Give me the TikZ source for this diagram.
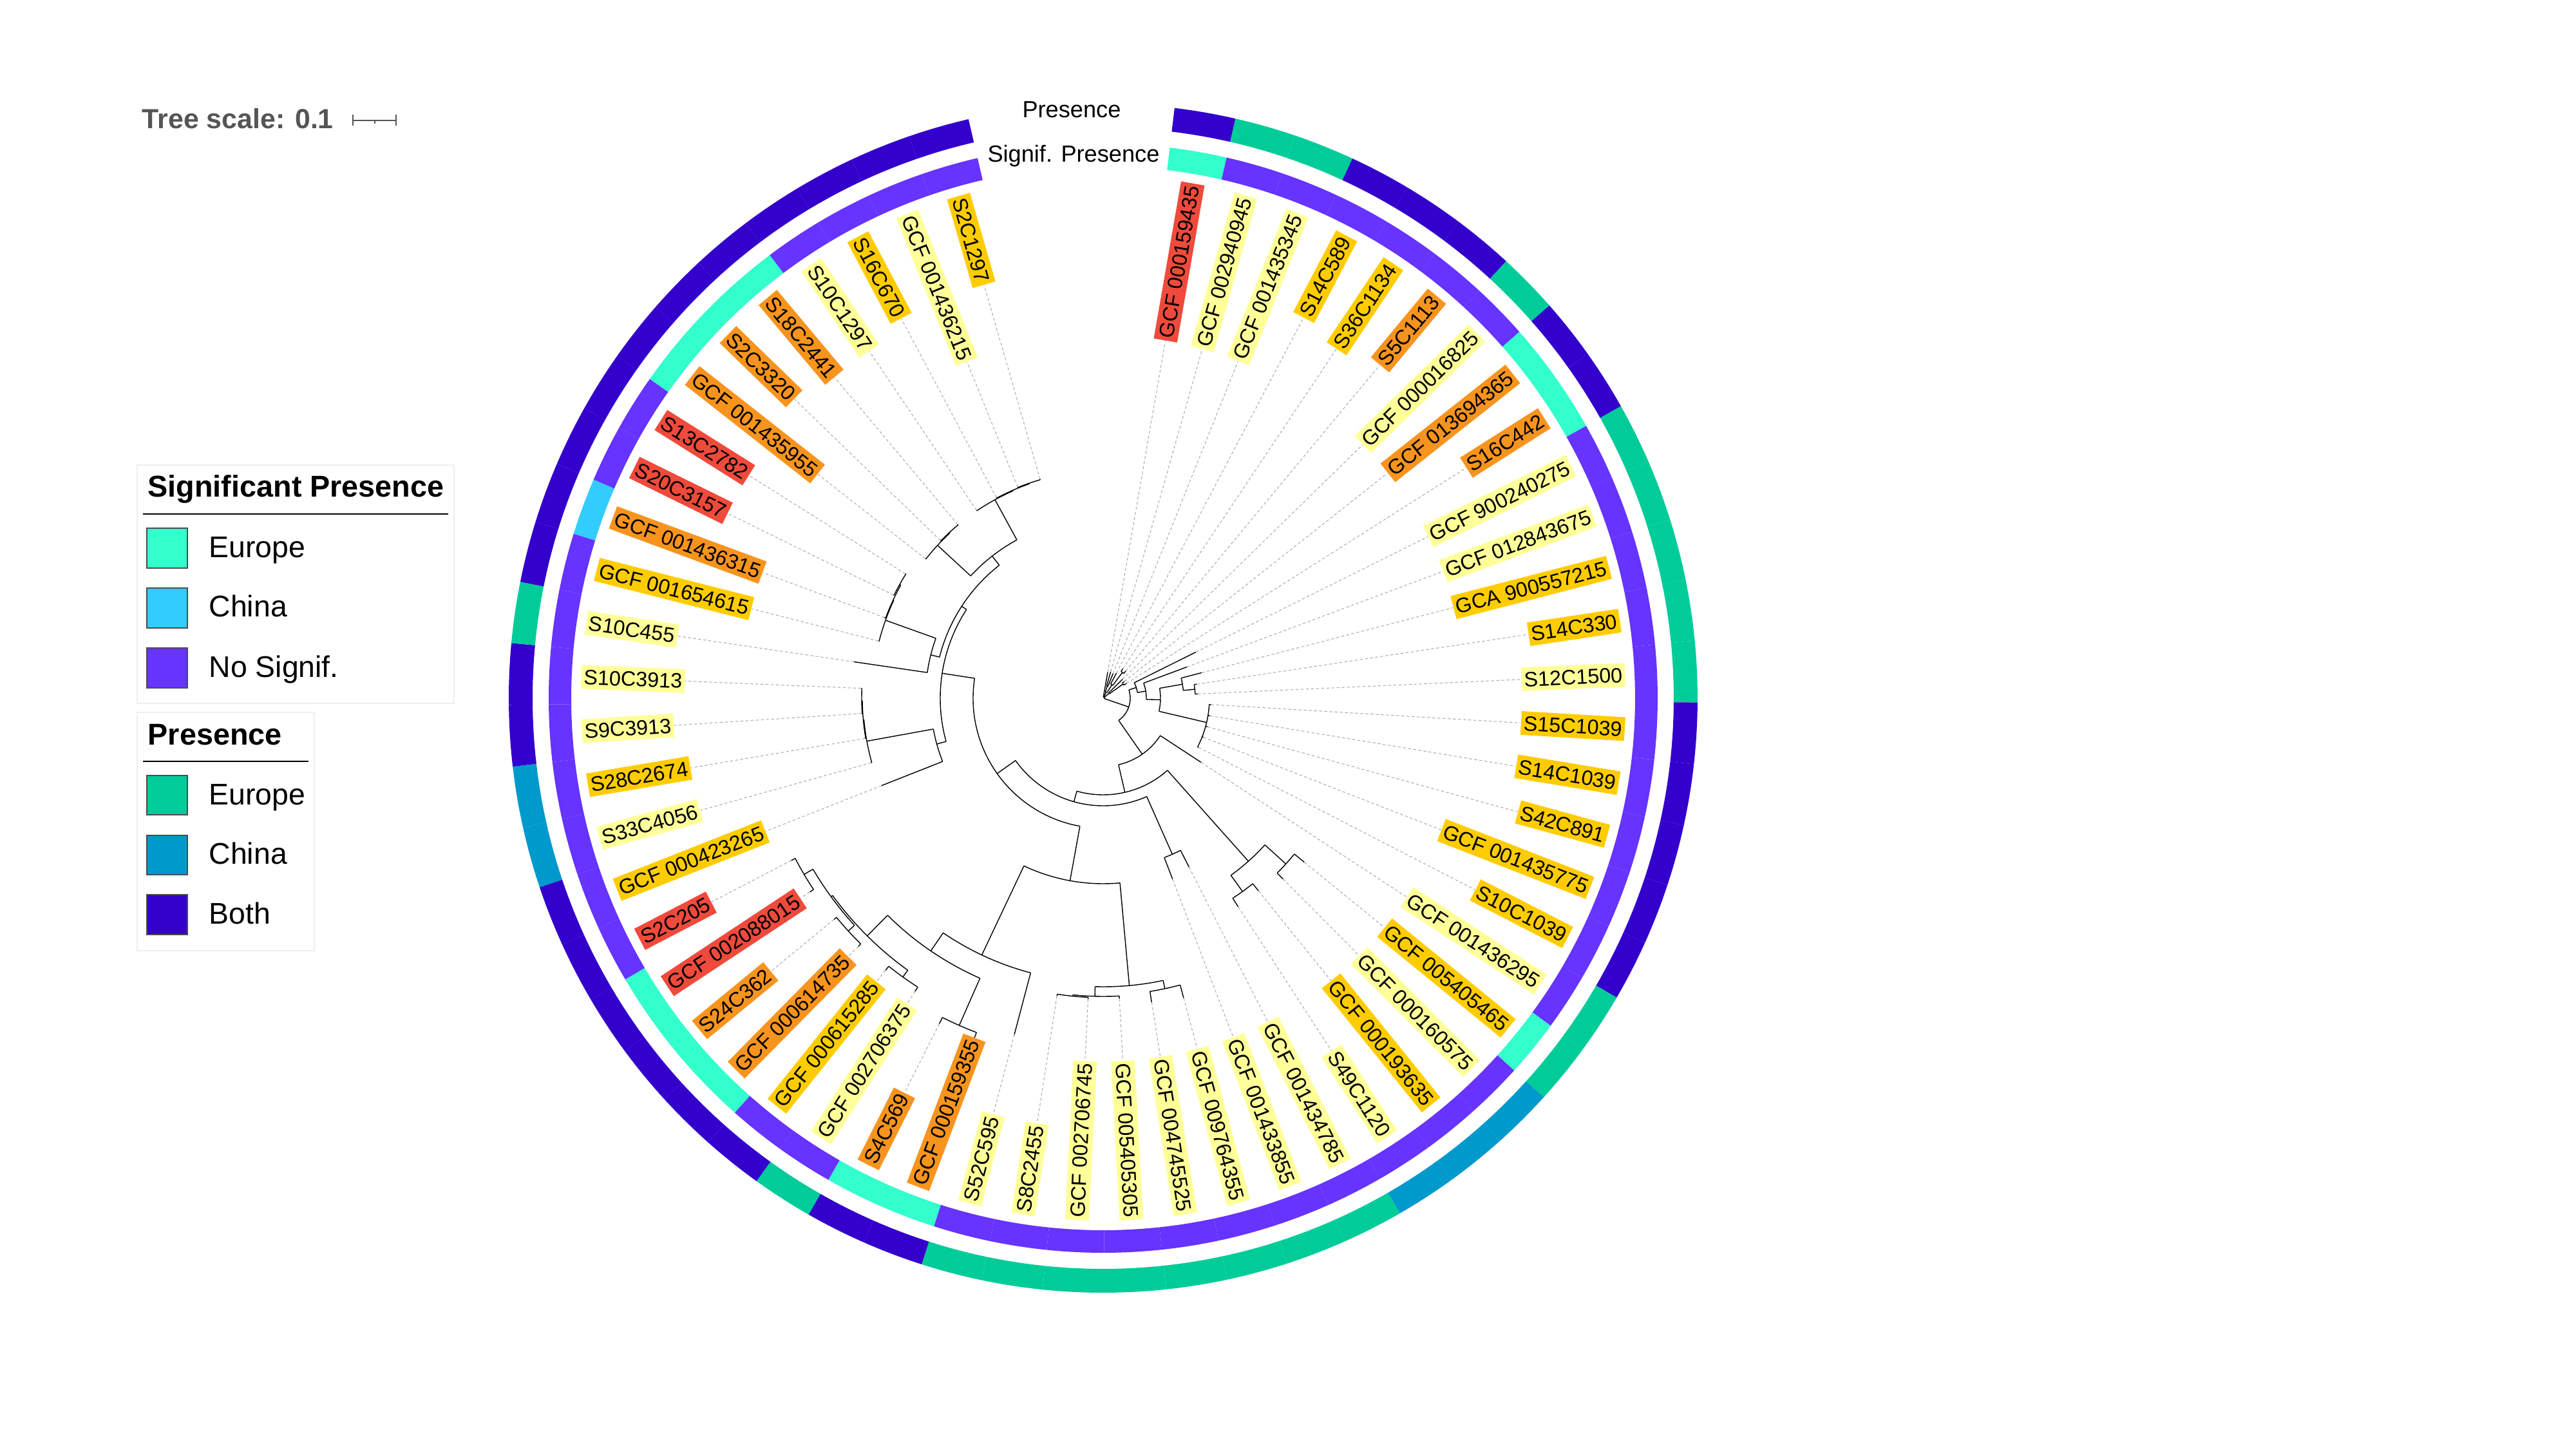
\documentclass[tikz,border=0pt]{standalone}
\usepackage{fontspec}
\setmainfont{Liberation Sans}
\usetikzlibrary{calc}
\definecolor{SigEurope}{HTML}{33FFCC}
\definecolor{SigChina}{HTML}{33CCFF}
\definecolor{SigNone}{HTML}{6633FF}
\definecolor{PresEurope}{HTML}{00CC99}
\definecolor{PresChina}{HTML}{0099CC}
\definecolor{PresBoth}{HTML}{3300CC}
\definecolor{LabRed}{HTML}{EF4A3B}
\definecolor{LabOrange}{HTML}{F7941E}
\definecolor{LabGold}{HTML}{FFCC00}
\definecolor{LabLight}{HTML}{FFFF99}
\definecolor{GuideGrey}{HTML}{AAAAAA}
\definecolor{ScaleGrey}{HTML}{555555}
\definecolor{LegendFrame}{HTML}{EEEEEE}
\tikzset{
  branch/.style={line width=0.4pt,draw=black},
  guide/.style={draw=GuideGrey,line width=0.3pt,dash pattern=on 0.045cm off 0.035cm},
  leaflabel/.style={inner xsep=1.2pt,inner ysep=0pt,text height=8.5pt,text depth=2pt,font=\fontsize{9.2}{10}\selectfont},
  swatch/.style={draw=black!70,line width=0.3pt},
  legendframe/.style={draw=LegendFrame,line width=0.5pt,fill=white},
  legendtext/.style={inner sep=0pt,anchor=base west,font=\fontsize{13.2}{15}\selectfont},
  legendtitle/.style={inner sep=0pt,anchor=base west,font=\fontsize{13.3}{15}\selectfont\bfseries},
  ringtitle/.style={inner sep=0pt,anchor=base,font=\fontsize{10.3}{12}\selectfont},
  scalebar/.style={draw=ScaleGrey,line width=0.6pt}
}
% annular sector: colour, start angle, end angle, inner radius, outer radius
\newcommand{\ringseg}[5]{%
  \fill[#1] (#2:#4) arc[start angle=#2,end angle=#3,radius=#4cm]
    -- (#3:#5) arc[start angle=#3,end angle=#2,radius=#5cm] -- cycle;}
\newcommand{\legendswatch}[3]{% colour, top y, bottom y
  \draw[swatch,fill=#1] (-14.85,#2) rectangle (-14.22,#3);}

\begin{document}
\begin{tikzpicture}
\useasboundingbox (-17.13,-11.47) rectangle (22.87,10.84);

% outer ring: presence
\foreach \c [count=\i] in {PresBoth,PresEurope,PresEurope,PresBoth,PresBoth,PresBoth,PresEurope,PresBoth,PresBoth,
  PresEurope,PresEurope,PresEurope,PresEurope,PresEurope,PresBoth,PresBoth,PresBoth,PresBoth,PresBoth,
  PresEurope,PresEurope,PresChina,PresChina,PresChina,PresEurope,PresEurope,PresEurope,PresEurope,PresEurope,
  PresEurope,PresEurope,PresEurope,PresBoth,PresBoth,PresEurope,PresBoth,PresBoth,PresBoth,PresBoth,PresBoth,
  PresBoth,PresChina,PresChina,PresBoth,PresBoth,PresEurope,PresBoth,PresBoth,PresBoth,PresBoth,PresBoth,
  PresBoth,PresBoth,PresBoth,PresBoth,PresBoth,PresBoth}{
  \pgfmathsetmacro{\sa}{83.1-(\i-1)*5.965}
  \pgfmathsetmacro{\sb}{\sa-5.965}
  \ringseg{\c}{\sa}{\sb}{8.86}{9.23}
}
% inner ring: significant presence
\foreach \c [count=\i] in {SigEurope,SigNone,SigNone,SigNone,SigNone,SigNone,SigNone,SigEurope,SigEurope,
  SigNone,SigNone,SigNone,SigNone,SigNone,SigNone,SigNone,SigNone,SigNone,SigNone,SigNone,
  SigEurope,SigNone,SigNone,SigNone,SigNone,SigNone,SigNone,SigNone,SigNone,SigNone,SigNone,SigNone,
  SigEurope,SigEurope,SigNone,SigNone,SigEurope,SigEurope,SigEurope,
  SigNone,SigNone,SigNone,SigNone,SigNone,SigNone,SigNone,SigNone,SigChina,SigNone,SigNone,
  SigEurope,SigEurope,SigEurope,SigNone,SigNone,SigNone,SigNone}{
  \pgfmathsetmacro{\sa}{83.1-(\i-1)*5.965}
  \pgfmathsetmacro{\sb}{\sa-5.965}
  \ringseg{\c}{\sa}{\sb}{8.26}{8.61}
}
\node[ringtitle] (presTitle) at (-0.49,9.01) {Presence};
\node[ringtitle] (sigTitle) at (-0.46,8.32) {Signif. Presence};

% inner nodes: angle / radius / parent radius / arc start / arc end (radii in px)
\foreach \nA/\nR/\nP/\nS/\nE in {
  0/2/2/80.12/-18.9,
  63.5/10/2/71.17/56.5, 71.17/20/10/74.15/68.19, 56.5/25/10/62.22/53.27, 53.27/50/25/56.26/50.29,
  39.5/12/2/44.33/35.38, 35.38/38/12/38.36/32.40,
  -18.9/42/2/17.9/-55.1, 17.9/54/42/26.43/9.4, 9.4/67/54/20.47/-1.6, -1.6/89/67/10.0/-13.2,
  10.0/125/89/14.5/5.56, 5.56/143/125/8.54/2.57, -13.2/165/89/-3.39/-27.25,
  -55.1/106/42/-33.22/-77.0, -77.0/150/106/-48.3/-105.8,
  -48.3/339/150/-42.2/-54.2, -42.2/383/339/-39.18/-45.15, -54.2/370/339/-51.11/-57.08,
  -105.8/167/150/-66.1/-144.6, -66.1/265/167/-63.04/-69.01,
  -144.6/202/167/-100.3/-188.8, -100.3/288/202/-84.8/-115.3,
  -84.8/448/288/-78.0/-91.6, -78.0/461/448/-74.97/-80.94, -91.6/463/448/-86.9/-95.85,
  -95.85/465/463/-92.87/-98.83,
  -115.3/441/288/-104.8/-124.3, -124.3/475/441/-113.75/-134.8, -113.75/555/475/-110.76/-116.73,
  -134.8/520/475/-125.7/-143.9, -125.7/533/520/-122.69/-128.66, -143.9/523/520/-137.6/-149.5,
  -137.6/536/523/-134.62/-140.59, -149.5/539/523/-146.55/-152.52,
  -188.8/253/202/-164.6/-213, -164.6/268/253/-158.48/-169.7, -169.7/373/268/-164.45/-174.9,
  -174.9/374/373/-170.41/-179.36, -179.36/375/374/-176.38/-182.34,
  -213/262/253/-194.1/-232, -194.1/276/262/-188.31/-199.7, -199.7/359/276/-194.27/-205.1,
  -205.1/360/359/-200.24/-209.2, -209.2/362/360/-206.2/-212.17,
  -232/280/262/-222.7/-241.4, -222.7/350/280/-218.13/-227.1, -227.1/351/350/-224.1/-230.06,
  -241.4/351/280/-236.03/-246.5, -246.5/352/351/-241.99/-251.0, -251.0/353/352/-247.96/-253.92}{
  \pgfmathsetmacro{\radN}{\nR/100}
  \pgfmathsetmacro{\radP}{\nP/100}
  \draw[branch] (\nA:\radP) -- (\nA:\radN);
  \draw[branch] (\nS:\radN) arc[start angle=\nS,end angle=\nE,radius=\radN cm];
}

% leaves: index / label / colour / parent radius / tip radius
\foreach \i/\txt/\col/\nP/\nT in {
  1/GCF 000159435/LabRed/2/41, 2/GCF 002940945/LabLight/20/43, 3/GCF 001435345/LabLight/20/41,
  4/S14C589/LabGold/25/44, 5/S36C1134/LabGold/50/55, 6/S5C1113/LabOrange/50/55,
  7/GCF 000016825/LabLight/12/42, 8/GCF 013694365/LabOrange/38/42, 9/S16C442/LabOrange/38/43,
  10/GCF 900240275/LabLight/54/161, 11/GCF 012843675/LabLight/67/139, 12/GCA 900557215/LabGold/125/158,
  13/S14C330/LabGold/143/147, 14/S12C1500/LabLight/143/147, 15/S15C1039/LabGold/165/168,
  16/S14C1039/LabGold/165/168, 17/S42C891/LabGold/165/168, 18/GCF 001435775/LabGold/165/167,
  19/S10C1039/LabGold/165/167, 20/GCF 001436295/LabLight/106/182, 21/GCF 005405465/LabGold/383/403,
  22/GCF 000160575/LabLight/383/396, 23/GCF 000193635/LabGold/370/384, 24/S49C1120/LabLight/370/386,
  25/GCF 001434785/LabLight/265/294, 26/GCF 001433855/LabLight/265/301, 27/GCF 009764355/LabLight/461/482,
  28/GCF 004745525/LabLight/461/478, 29/GCF 005405305/LabLight/463/467, 30/GCF 002706745/LabLight/465/468,
  31/S8C2455/LabLight/465/468, 32/S52C595/LabLight/441/540, 33/GCF 000159355/LabOrange/555/570,
  34/S4C569/LabOrange/555/566, 35/GCF 002706375/LabLight/533/541, 36/GCF 000615285/LabGold/533/541,
  37/GCF 000614735/LabOrange/536/541, 38/S24C362/LabOrange/536/541, 39/GCF 002088015/LabRed/539/546,
  40/S2C205/LabRed/539/546, 41/GCF 000423265/LabGold/268/370, 42/S33C4056/LabLight/373/374,
  43/S28C2674/LabGold/374/375, 44/S9C3913/LabLight/375/376, 45/S10C3913/LabLight/375/376,
  46/S10C455/LabLight/276/391, 47/GCF 001654615/LabGold/359/360, 48/GCF 001436315/LabOrange/360/362,
  49/S20C3157/LabRed/362/363, 50/S13C2782/LabRed/362/363, 51/GCF 001435955/LabOrange/350/351,
  52/S2C3320/LabOrange/351/352, 53/S18C2441/LabOrange/351/352, 54/S10C1297/LabLight/351/352,
  55/S16C670/LabGold/352/353, 56/GCF 001436215/LabLight/353/354, 57/S2C1297/LabGold/353/354}{
  \pgfmathsetmacro{\ang}{83.1-(\i-0.5)*5.965}
  \pgfmathsetmacro{\radP}{\nP/100}
  \pgfmathsetmacro{\radT}{\nT/100}
  \ifdim \ang pt>-90pt
    \pgfmathsetmacro{\rot}{\ang}\def\anc{east}
  \else
    \pgfmathsetmacro{\rot}{\ang+180}\def\anc{west}
  \fi
  \draw[branch] (\ang:\radP) -- (\ang:\radT) coordinate (t\i);
  \node[leaflabel,fill=\col,rotate=\rot,anchor=\anc] (L\i) at (\ang:8.12) {\txt};
  \draw[guide] (t\i) -- (L\i);
}

% tree scale
\node[inner sep=0pt,anchor=base west,text=ScaleGrey,font=\fontsize{12.2}{14}\selectfont\bfseries]
  (scaleText) at (-14.93,8.84) {Tree scale: 0.1};
\draw[scalebar] (-11.65,8.97) -- (-10.98,8.97);
\draw[scalebar] (-11.65,9.06) -- (-11.65,8.89);
\draw[scalebar] (-10.98,9.06) -- (-10.98,8.89);
\draw[scalebar] (-11.31,8.97) -- (-11.31,8.92);

% legend: significant presence
\draw[legendframe] (-15.00,3.62) rectangle (-10.08,-0.08);
\node[legendtitle] (sigLegTitle) at (-14.84,3.12) {Significant Presence};
\draw[line width=0.4pt] (-14.91,2.86) -- (-10.17,2.86);
\legendswatch{SigEurope}{2.64}{2.02}
\legendswatch{SigChina}{1.71}{1.09}
\legendswatch{SigNone}{0.78}{0.16}
\node[legendtext] (sigLegEU) at (-13.89,2.18) {Europe};
\node[legendtext] (sigLegCN) at (-13.89,1.26) {China};
\node[legendtext] (sigLegNo) at (-13.89,0.32) {No Signif.};

% legend: presence
\draw[legendframe] (-15.00,-0.22) rectangle (-12.25,-3.92);
\node[legendtitle] (presLegTitle) at (-14.84,-0.73) {Presence};
\draw[line width=0.4pt] (-14.91,-0.98) -- (-12.34,-0.98);
\legendswatch{PresEurope}{-1.20}{-1.81}
\legendswatch{PresChina}{-2.13}{-2.74}
\legendswatch{PresBoth}{-3.05}{-3.67}
\node[legendtext] (presLegEU) at (-13.89,-1.65) {Europe};
\node[legendtext] (presLegCN) at (-13.89,-2.57) {China};
\node[legendtext] (presLegBoth) at (-13.89,-3.50) {Both};
\end{tikzpicture}
\end{document}
